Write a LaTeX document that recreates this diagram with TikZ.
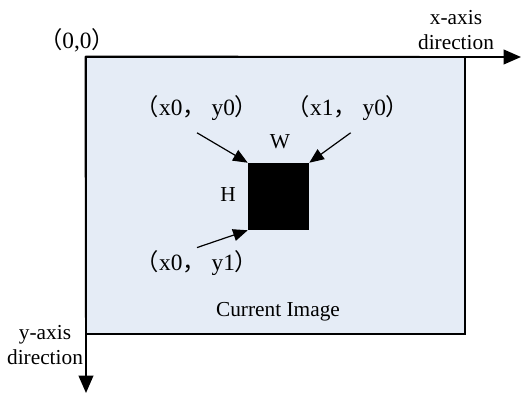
\documentclass[tikz,border=0pt]{standalone}
\usepackage{fontspec}
\setmainfont{Liberation Serif}
\newfontfamily\cjk{Noto Sans CJK SC}
\usepackage{xcolor}
\definecolor{cImg}{HTML}{E5ECF6}
\definecolor{cLine}{HTML}{000000}
\usetikzlibrary{positioning,arrows.meta}
\newcommand{\ptlabel}[2]{{\cjk（}#1{\cjk，}#2{\cjk）}}
\tikzset{
  img-frame/.style={draw=cLine,line width=0.9pt,fill=cImg,inner sep=0pt},
  img-block/.style={fill=black,inner sep=0pt},
  txt/.style={inner sep=0pt,align=center,font=\fontsize{16}{19}\selectfont},
  txt-pt/.style={inner sep=0pt,font=\fontsize{17.5}{19}\selectfont},
  arrow-axis/.style={-{Triangle[length=13pt,width=11pt]},line width=1.3pt,draw=cLine},
  arrow-ptr/.style={-{Triangle[length=11pt,width=9pt]},line width=0.9pt,draw=cLine},
}

\begin{document}
\begin{tikzpicture}[x=0.75pt,y=-0.75pt]
  \useasboundingbox (0,0) rectangle (528,394);
  % image and selected block
  \node[img-frame,minimum width=284.25pt,minimum height=207.75pt] (img) at (275.5,195.5) {};
  \node[img-block,minimum width=45.75pt,minimum height=50.25pt] (blk) at (278.5,196.5) {};
  \coordinate (xend) at (521,57);
  \coordinate (yend) at (86,393);
  % axes
  \draw[arrow-axis] (img.north west) -- (xend);
  \draw[arrow-axis] (img.north west) -- (yend);
  % labels
  \node[txt-pt] (origin) at (77,40) {{\cjk（}0,0{\cjk）}};
  \node[txt] (xlbl) at (456,30) {x-axis\\direction};
  \node[txt] (ylbl) at (45,345) {y-axis\\direction};
  \node[txt-pt] (p00) at (197,108) {\ptlabel{x0}{ y0}};
  \node[txt-pt] (p10) at (348,108) {\ptlabel{x1}{ y0}};
  \node[txt-pt] (p01) at (197,263) {\ptlabel{x0}{ y1}};
  \node[txt] (wlbl) at (280,142) {W};
  \node[txt] (hlbl) at (228,195) {H};
  \node[txt] (cap) at (278,312) {Current Image};
  % pointers
  \draw[arrow-ptr] ([yshift=-9pt]p00.south) -- (blk.north west);
  \draw[arrow-ptr] ([yshift=-9pt,xshift=2pt]p10.south) -- (blk.north east);
  \draw[arrow-ptr] ([yshift=2pt]p01.north) -- (blk.south west);
\end{tikzpicture}
\end{document}
